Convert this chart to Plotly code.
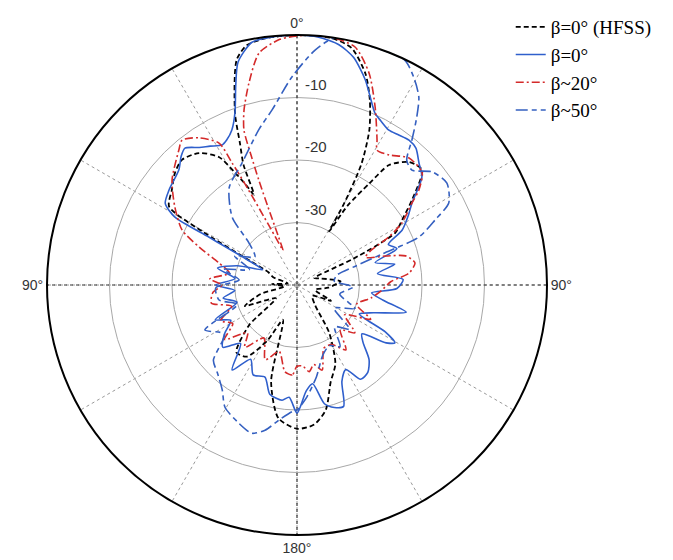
import plotly.graph_objects as go

# angles in degrees, 0 = boresight, positive clockwise; levels in dB
hfss_theta = [-180, -172, -165, -158, -152, -145, -138, -130, -122, -112, -104, -96, -88, -80,
              -72, -66, -63, -60.5, -58.5, -53, -47.5, -42.6, -36.6, -31.4, -29, -27, -25.5, -24,
              -21.9, -19.8, -15, -11.8, -7, 0, 8, 13, 18, 21.5, 25, 28, 30, 31, 32.5, 35.5, 37.5,
              42.3, 47.4, 53.5, 58.2, 62, 65, 68, 75, 85, 95, 105, 115, 125, 138, 146, 154, 161,
              167, 173, 180]
hfss_db = [-17, -18.5, -24, -34, -30, -26, -25.5, -30, -36, -31, -34, -38, -36, -38.5,
           -36, -35, -32, -22.4, -16, -14.9, -13.5, -12.8, -13.7, -16, -19.3, -22, -24, -19,
           -15.5, -10.7, -2.7, -0.8, -0.2, 0, -0.1, -1.1, -4.5, -8.2, -12.6, -18, -24.8, -30,
           -25, -20, -15.8, -13.4, -12.8, -17.1, -20.2, -22.2, -30, -37, -36, -33, -35, -37,
           -34, -37, -35.7, -30.8, -26, -23.5, -19.5, -17.5, -17]

b0_theta = [-180, -176, -172.6, -166, -160.8, -154, -148, -142.6, -136, -130, -124, -118, -113,
            -106, -100, -95, -90, -84, -78, -72, -66, -63, -61.5, -60.9, -58.2, -53.4, -45.7,
            -42, -39.3, -35.4, -32, -28.2, -25.8, -22.8, -19.8, -17, -14.8, -10.5, -5, 0, 5, 10,
            14, 18.4, 21, 24.4, 27, 30.7, 34, 37.7, 41, 45, 49.2, 54.5, 58, 62.4, 66, 70, 74, 78,
            82, 87, 92, 96, 100, 104, 110, 115, 118, 120.6, 123, 127, 131, 136, 141, 146, 150,
            155, 159, 163, 167, 171, 175, 180]
b0_db = [-19.5, -22, -21.4, -22, -24.4, -24, -26, -22.9, -27, -24.5, -26, -28, -25.8,
         -30, -28, -30, -27, -30, -27, -30, -34, -31, -24, -17.6, -15.2, -14.5, -13.6,
         -12.3, -11.7, -13, -13.8, -14.6, -14.2, -13.1, -10.7, -6.5, -3.1, -0.5, -0.1, 0, -0.2, -1,
         -2.5, -5.4, -7.5, -9.8, -10.5, -11.2, -11, -10.7, -11, -12.4, -13.6, -17.4, -19, -21, -24, -23, -27, -24,
         -27, -23, -24, -28, -26, -22, -27, -29, -24, -21.8, -23, -27, -26, -23.4, -22, -21.8, -24.4,
         -23, -19.2, -19.5, -20.5, -24, -23, -19.5]

b20_theta = [-180, -177, -172, -165, -157, -148, -140, -134, -127, -121, -115, -108, -102, -95,
             -90, -86, -80, -74.2, -68.8, -64.4, -57.4, -50, -41.2, -38.4, -33.7, -28.8, -28,
             -27.2, -25, -22, -21, -20.4, -20, -19.5, -18.9, -16.8, -13.4, -9.3, -4, 2, 8, 13.7,
             18.8, 23.7, 28.9, 30.65, 35.3, 41.4, 48.1, 52.1, 54.5, 59.4, 62.4, 65, 68, 72, 75,
             79.4, 84, 88, 94, 100, 108, 115, 122, 129.6, 136, 143, 150, 157, 163.6, 168, 172, 176,
             180]
b20_db = [-27, -25.6, -26, -29, -27, -30, -27, -29, -25.5, -28, -26.5, -29, -26, -26.5,
          -28, -26, -29, -27, -23.2, -19.6, -16.8, -13.9, -11.3, -10.4, -11.7, -14.1, -17.9,
          -22, -30, -34, -31.8, -26.7, -22.1, -18.1, -13.8, -10.7, -6.8, -2.4, -0.6, 0, 0, -0.8,
          -4.2, -8.9, -13.5, -14.9, -14.5, -12.9, -13.1, -15.3, -17.4, -20.5, -23.4, -27, -28.2, -25, -22,
          -20.8, -22, -25, -26.5, -28, -30, -27, -31, -28, -30, -27, -29, -29, -25.8, -27, -26, -27,
          -27]

b50_theta = [-180, -177.7, -172.4, -167.6, -163, -157.2, -149.5, -144.5, -138, -132, -124, -116,
             -108, -100.9, -92, -85, -78, -72, -65, -56.3, -48.8, -43.7, -34.8, -24.3, -13.8, -8.1,
             -1.4, 4.4, 8.7, 17, 25.6, 29.9, 33, 35.5, 38.4, 41.3, 45, 50.1, 55.8, 61.6, 64.8, 68.5,
             70, 72, 76, 84, 92, 102, 112, 122, 130, 138, 145, 152, 160, 168, 175, 180]
b50_db = [-20, -19.7, -18.2, -16.2, -15.2, -16, -17.3, -19.4, -21, -22, -26, -23.6,
          -30, -27.3, -27, -30.7, -28, -32, -29, -31.9, -29.8, -25, -21, -18.6, -14.4, -11.7,
          -6.7, -2.3, 0, 0, -0.1, -2.2, -4.2, -7, -10.4, -13.4, -14, -11.8, -11, -12.4, -15.6, -19,
          -25.5, -30, -33.4, -34, -31, -33, -30, -33, -29, -31, -28, -29, -28, -25, -22, -20]

series_names = ["β=0° (HFSS)", "β=0°", "β~20°", "β~50°"]
radial_ticks = [-30, -20, -10]
r_min, r_max = -40, 0
angle_ticks = list(range(0, 360, 30))
angle_labels = ["0°", "", "", "90°", "", "", "180°", "", "", "90°", "", ""]

styles = [
    dict(color="black", width=1.8, dash="5px,3px"),
    dict(color="#2f5fcc", width=1.6, dash="solid"),
    dict(color="#d42a2a", width=1.6, dash="8px,3px,2px,3px"),
    dict(color="#3560c0", width=1.6, dash="12px,4px,5px,4px"),
]

W, H = 673, 560
# polar domain in pixels (left, top, size); page body adds ~8px offset
PX, PY, PS = 39, 27, 500

fig = go.Figure()

# darker dotted lines along 0-180 and 90-270 (the rest of the grid is lighter)
for a in (0, 90):
    fig.add_trace(go.Scatterpolar(
        r=[r_max, r_min, r_max], theta=[a, a, a + 180], mode="lines",
        line=dict(color="#333", width=1.2, dash="3px,3px"),
        showlegend=False, hoverinfo="skip",
    ))

data = [(hfss_theta, hfss_db), (b0_theta, b0_db), (b20_theta, b20_db), (b50_theta, b50_db)]
for (th, r), name, st in zip(data, series_names, styles):
    fig.add_trace(go.Scatterpolar(
        r=r, theta=th, mode="lines", name=name,
        line=dict(color=st["color"], width=st["width"], dash=st["dash"],
                  shape="spline", smoothing=0.7),
    ))

# radial labels sit just above each ring, right of the 0° line
cx = PX + PS / 2
cy = PY + PS / 2
for v in radial_ticks:
    ring_y = cy - (PS / 2) * (v - r_min) / (r_max - r_min)
    fig.add_annotation(
        x=(cx + 6) / W, y=1 - (ring_y - 3) / H, xref="paper", yref="paper",
        xanchor="left", yanchor="bottom", text=str(v), showarrow=False,
        font=dict(family="Liberation Sans", size=15, color="#333"),
    )

fig.update_layout(
    width=W, height=H,
    margin=dict(l=0, r=0, t=0, b=0, autoexpand=False),
    paper_bgcolor="white",
    showlegend=True,
    legend=dict(
        x=0.747, y=1.0, xanchor="left", yanchor="top",
        font=dict(family="Liberation Serif", size=19, color="black"),
        bgcolor="rgba(0,0,0,0)", tracegroupgap=0,
    ),
    polar=dict(
        domain=dict(x=[PX / W, (PX + PS) / W], y=[1 - (PY + PS) / H, 1 - PY / H]),
        bgcolor="white",
        angularaxis=dict(
            direction="clockwise", rotation=90,
            tickmode="array", tickvals=angle_ticks, ticktext=angle_labels,
            showline=True, linecolor="black", linewidth=2,
            showgrid=True, gridcolor="#9a9a9a", griddash="dot", gridwidth=1.2,
            ticks="",
            tickfont=dict(family="Liberation Sans", size=14, color="#333"),
        ),
        radialaxis=dict(
            range=[r_min, r_max], angle=90,
            tickmode="array", tickvals=radial_ticks,
            showticklabels=False, showline=False, ticks="",
            showgrid=True, gridcolor="#a8a8a8", gridwidth=1,
        ),
    ),
)

fig.write_html("out.html")
